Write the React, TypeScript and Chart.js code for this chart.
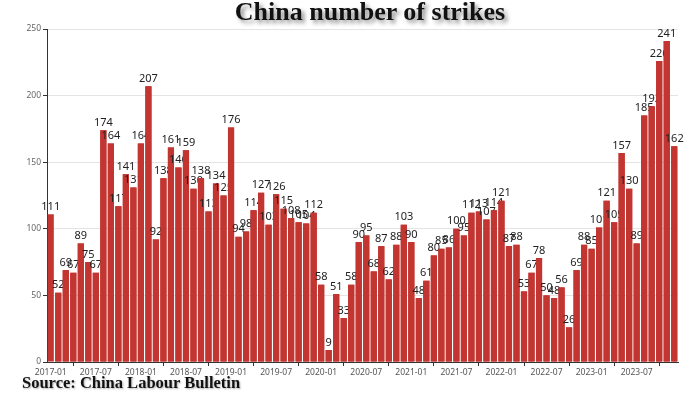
import React, { useEffect, useRef } from "react";
import { Chart, registerables } from "chart.js";

Chart.register(...registerables);

const years = ["2017", "2018", "2019", "2020", "2021", "2022", "2023"];
const months = ["01", "02", "03", "04", "05", "06", "07", "08", "09", "10", "11", "12"];

const strikes2017 = [111, 52, 69, 67, 89, 75, 67, 174, 164, 117, 141, 131];
const strikes2018 = [164, 207, 92, 138, 161, 146, 159, 130, 138, 113, 134, 125];
const strikes2019 = [176, 94, 98, 114, 127, 103, 126, 115, 108, 105, 104, 112];
const strikes2020 = [58, 9, 51, 33, 58, 90, 95, 68, 87, 62, 88, 103];
const strikes2021 = [90, 48, 61, 80, 85, 86, 100, 95, 112, 113, 107, 114];
const strikes2022 = [121, 87, 88, 53, 67, 78, 50, 48, 56, 26, 69, 88];
const strikes2023 = [85, 101, 121, 105, 157, 130, 89, 185, 192, 226, 241, 162];

const yTicks = [0, 50, 100, 150, 200, 250];

const categories = years.flatMap((y) => months.map((m) => `${y}-${m}`));
const values = [
  ...strikes2017,
  ...strikes2018,
  ...strikes2019,
  ...strikes2020,
  ...strikes2021,
  ...strikes2022,
  ...strikes2023,
];

const labelPlugin = {
  id: "barLabels",
  afterDatasetsDraw(chart: any) {
    const meta = chart.getDatasetMeta(0);
    const ctx = chart.ctx;
    const n = meta.data.length;
    for (let i = 0; i < n; i++) {
      const bar = meta.data[i];
      ctx.save();
      ctx.font = "11px 'Noto Sans', sans-serif";
      ctx.fillStyle = "#222";
      ctx.textAlign = "center";
      ctx.textBaseline = "bottom";
      ctx.fillText(String(values[i]), bar.x, bar.y - 2);
      ctx.restore();
      if (i + 1 < n) meta.data[i + 1].draw(ctx);
    }
  },
};

export default function App() {
  const canvasRef = useRef<HTMLCanvasElement | null>(null);

  useEffect(() => {
    const prevMargin = document.body.style.margin;
    document.body.style.margin = "0";
    const canvas = canvasRef.current!;
    const chart = new Chart(canvas, {
      type: "bar",
      data: {
        labels: categories,
        datasets: [
          {
            data: values,
            backgroundColor: "#c23531",
            borderWidth: 0,
            categoryPercentage: 1,
            barPercentage: 0.82,
          },
        ],
      },
      plugins: [labelPlugin],
      options: {
        animation: false,
        responsive: false,
        maintainAspectRatio: false,
        layout: { padding: { top: 29, right: 22, left: 0, bottom: 0 } },
        plugins: {
          legend: { display: false },
          tooltip: { enabled: false },
          title: { display: false },
        },
        scales: {
          x: {
            offset: true,
            afterFit: (s: any) => {
              s.height = 32;
            },
            grid: {
              offset: false,
              drawOnChartArea: false,
              drawTicks: true,
              tickLength: 4,
              tickColor: (ctx: any) => (ctx.index % 6 === 3 ? "#333" : "rgba(0,0,0,0)"),
            },
            border: { display: true, color: "#333", width: 1 },
            ticks: {
              autoSkip: false,
              maxRotation: 0,
              minRotation: 0,
              padding: 1,
              color: "#555",
              font: { family: "'Noto Sans', sans-serif", size: 8.5 },
              callback: (_v: any, i: number) => (i % 6 === 0 ? categories[i] : ""),
            },
          },
          y: {
            min: 0,
            max: 250,
            afterFit: (s: any) => {
              s.width = 47;
            },
            afterBuildTicks: (s: any) => {
              s.ticks = yTicks.map((v) => ({ value: v }));
            },
            grid: {
              color: "#e4e4e4",
              lineWidth: 1,
              drawTicks: true,
              tickLength: 4,
              tickColor: "#333",
            },
            border: { display: true, color: "#333", width: 1 },
            ticks: {
              padding: 2,
              color: "#666",
              font: { family: "'Noto Sans', sans-serif", size: 8.5 },
            },
          },
        },
      },
    });
    return () => {
      chart.destroy();
      document.body.style.margin = prevMargin;
    };
  }, []);

  return (
    <div style={{ position: "relative", width: 700, height: 394, background: "#fff", overflow: "hidden" }}>
      <canvas ref={canvasRef} width={700} height={394} style={{ position: "absolute", left: 0, top: 0 }} />
      <div
        style={{
          position: "absolute",
          left: 0,
          width: 740,
          top: -3,
          textAlign: "center",
          fontFamily: "'Liberation Serif', 'DejaVu Serif', serif",
          fontWeight: "bold",
          fontSize: 26,
          color: "#111",
          textShadow: "3px 3px 4px rgba(0,0,0,0.45)",
          whiteSpace: "nowrap",
        }}
      >
        China number of strikes
      </div>
      <div
        style={{
          position: "absolute",
          left: 22,
          top: 373,
          fontFamily: "'Liberation Serif', 'DejaVu Serif', serif",
          fontWeight: "bold",
          fontSize: 16.5,
          color: "#111",
          textShadow: "1px 1px 2px rgba(0,0,0,0.3)",
          whiteSpace: "nowrap",
        }}
      >
        Source: China Labour Bulletin
      </div>
    </div>
  );
}
